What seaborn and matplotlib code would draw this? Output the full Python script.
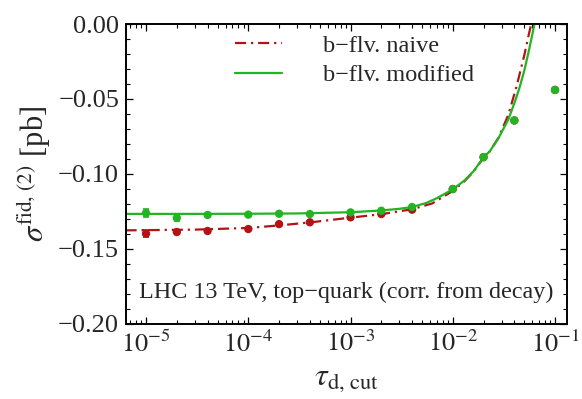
import numpy as np
import pandas as pd
import matplotlib
matplotlib.use("Agg")
import matplotlib.pyplot as plt
from matplotlib.ticker import FixedLocator, FixedFormatter, LogLocator, NullFormatter
import seaborn as sns

# tau_cut values of the computed points
tau = [1e-5, 2e-5, 4e-5, 1e-4, 2e-4, 4e-4, 1e-3, 2e-3, 4e-3, 1e-2, 2e-2, 4e-2, 1e-1]

# sigma^{fid,(2)} [pb] for both b-flavour schemes
sig_naive = [-0.1400, -0.1389, -0.1382, -0.1369, -0.1336, -0.1324, -0.1291,
             -0.1269, -0.1240, -0.1102, -0.0889, -0.0644, -0.0440]
err_naive = [0.0025, 0.0015, 0.0006, 0.0005, 0.0005, 0.0004, 0.0004,
             0.0003, 0.0003, 0.0003, 0.0003, 0.0003, 0.0003]
sig_mod = [-0.1262, -0.1295, -0.1275, -0.1273, -0.1267, -0.1269, -0.1258,
           -0.1247, -0.1222, -0.1102, -0.0889, -0.0644, -0.0440]
err_mod = [0.0024, 0.0020, 0.0006, 0.0005, 0.0005, 0.0004, 0.0004,
           0.0003, 0.0003, 0.0003, 0.0003, 0.0003, 0.0003]

# fitted curves
fit_tau_naive = [6.3e-6, 3e-5, 1e-4, 2e-4, 4e-4, 1e-3, 2e-3, 4e-3, 6.3e-3, 1e-2,
                 1.3e-2, 1.6e-2, 2e-2, 2.3e-2, 2.8e-2, 3.5e-2, 4.2e-2, 5e-2,
                 5.5e-2, 5.85e-2, 6.2e-2]
fit_naive = [-0.1378, -0.1373, -0.1362, -0.1345, -0.1325, -0.1293, -0.1270,
             -0.1237, -0.1198, -0.1115, -0.1050, -0.0985, -0.0893, -0.0850,
             -0.0760, -0.0605, -0.0418, -0.0210, -0.0080, 0.0000, 0.0090]
fit_tau_mod = [6.3e-6, 3e-5, 1e-4, 3e-4, 1e-3, 2e-3, 3e-3, 4e-3, 5.5e-3, 7e-3,
               1e-2, 1.3e-2, 1.6e-2, 2e-2, 2.3e-2, 2.8e-2, 3.5e-2, 4e-2,
               4.5e-2, 5e-2, 5.5e-2, 6e-2, 6.5e-2]
fit_mod = [-0.1268, -0.1268, -0.1267, -0.1265, -0.1257, -0.1245, -0.1234,
           -0.1222, -0.1195, -0.1163, -0.1104, -0.1045, -0.0982, -0.0890,
           -0.0850, -0.0762, -0.0636, -0.0530, -0.0424, -0.0312, -0.0190,
           -0.0070, 0.0050]

series_labels = ["b\u2212flv. naive", "b\u2212flv. modified"]
ytick_vals = [-0.20, -0.15, -0.10, -0.05, 0.00]
ytick_labels = ["\u22120.20", "\u22120.15", "\u22120.10", "\u22120.05", "0.00"]
xtick_vals = [1e-5, 1e-4, 1e-3, 1e-2, 1e-1]
xtick_labels = [r"$10^{-5}$", r"$10^{-4}$", r"$10^{-3}$", r"$10^{-2}$", r"$10^{-1}$"]

RED = "#b01414"
GREEN = "#22b422"

sns.set_theme(style="ticks")
plt.rcParams["font.family"] = ["Liberation Serif", "DejaVu Serif"]
plt.rcParams["mathtext.fontset"] = "stix"
plt.rcParams["axes.linewidth"] = 1.4

fig = plt.figure(figsize=(5.82, 3.99), dpi=100)
ax = fig.add_axes([0.2165, 0.1892, 0.7577, 0.7506])

pts = pd.DataFrame({"tau": tau, "naive": sig_naive, "mod": sig_mod})
fn = pd.DataFrame({"tau": fit_tau_naive, "sig": fit_naive})
fm = pd.DataFrame({"tau": fit_tau_mod, "sig": fit_mod})

sns.lineplot(data=fn, x="tau", y="sig", ax=ax, color=RED, lw=1.6,
             linestyle=(0, (5, 2.2, 1, 2.2)), sort=False, estimator=None,
             label=series_labels[0])
ax.errorbar(tau, sig_naive, yerr=err_naive, fmt="none", ecolor=RED,
            elinewidth=1.2, capsize=2.5, capthick=1.2)
sns.scatterplot(data=pts, x="tau", y="naive", ax=ax, color=RED, s=36,
                edgecolor="none", zorder=3)

sns.lineplot(data=fm, x="tau", y="sig", ax=ax, color=GREEN, lw=1.6,
             sort=False, estimator=None, label=series_labels[1])
ax.errorbar(tau, sig_mod, yerr=err_mod, fmt="none", ecolor=GREEN,
            elinewidth=1.2, capsize=2.5, capthick=1.2, zorder=4)
sns.scatterplot(data=pts, x="tau", y="mod", ax=ax, color=GREEN, s=36,
                edgecolor="none", zorder=5)

ax.set_xscale("log")
ax.set_xlim(10 ** -5.196, 10 ** -0.883)
ax.set_ylim(-0.20, 0.00)

ax.yaxis.set_major_locator(FixedLocator(ytick_vals))
ax.yaxis.set_major_formatter(FixedFormatter(ytick_labels))
ax.yaxis.set_minor_locator(FixedLocator(np.arange(-0.20, 0.001, 0.01)))
ax.xaxis.set_major_locator(FixedLocator(xtick_vals))
ax.xaxis.set_major_formatter(FixedFormatter(xtick_labels))
ax.xaxis.set_minor_locator(LogLocator(base=10, subs=np.arange(2, 10), numticks=20))
ax.xaxis.set_minor_formatter(NullFormatter())

ax.tick_params(which="both", direction="in", top=True, right=True, color="black")
ax.tick_params(which="major", length=5, width=0.9, labelsize=19, pad=5)
ax.tick_params(which="minor", length=3, width=0.8)
for s in ax.spines.values():
    s.set_color("black")

ax.set_xlabel(r"$\tau_{\mathrm{d,\,cut}}$", fontsize=23, labelpad=6)
ax.set_ylabel(r"$\sigma^{\mathrm{fid},\,(2)}$ [pb]", fontsize=22, labelpad=4)

ax.text(0.5, 0.105, "LHC 13 TeV, top\u2212quark (corr. from decay)",
        transform=ax.transAxes, ha="center", va="center", fontsize=17.4)

leg = ax.legend(loc="upper left", bbox_to_anchor=(0.247, 0.965), frameon=False,
                fontsize=17.5, handlelength=1.95, handletextpad=1.66,
                labelspacing=0.32, borderpad=0, borderaxespad=0)

fig.savefig("out.png", dpi=100)
